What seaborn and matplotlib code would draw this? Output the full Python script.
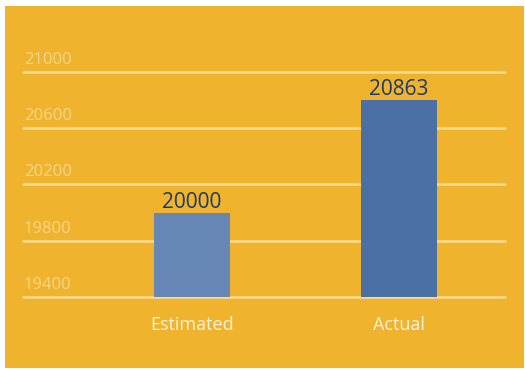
import matplotlib
matplotlib.use('Agg')
import matplotlib.pyplot as plt
import matplotlib.transforms as mtransforms
from matplotlib.patches import Rectangle
import seaborn as sns
import pandas as pd

categories = ['Estimated', 'Actual']
bar_values = [20000, 20800]
bar_labels = ['20000', '20863']
y_ticks = [19400, 19800, 20200, 20600, 21000]

bg = '#EFB32E'
bar_colors = ['#6788B6', '#4B70A6']
grid_color = '#F8DC93'
tick_color = '#F6D68A'
label_color = '#1A3A6C'

sns.set_theme(style='white')
plt.rcParams['font.family'] = ['Open Sans', 'DejaVu Sans']

df = pd.DataFrame({'Category': categories, 'Value': bar_values})

fig = plt.figure(figsize=(5.25, 3.7), dpi=100)
fig.patch.set_facecolor('white')
fig.patches.append(Rectangle((5 / 525, 1 - 368 / 370), 519 / 525, 362 / 370,
                             transform=fig.transFigure, facecolor=bg,
                             edgecolor='none', zorder=-10))

ax = fig.add_axes([23 / 525, 1 - 297 / 370, 482 / 525, 253.4 / 370])
ax.set_facecolor('none')

sns.barplot(data=df, x='Category', y='Value', hue='Category', palette=bar_colors,
            width=0.367, legend=False, ax=ax, zorder=3, saturation=1,
            edgecolor='none', linewidth=0)

ax.set_ylim(19400, 21200)
ax.set_xlim(-0.816, 1.512)

for t in y_ticks:
    ax.axhline(t, color=grid_color, lw=1.8, zorder=2, clip_on=False)

trans = mtransforms.blended_transform_factory(ax.transAxes, ax.transData)
for t in y_ticks:
    ax.annotate(str(t), xy=(0.002, t), xycoords=trans, xytext=(0, 3),
                textcoords='offset points', ha='left', va='bottom',
                fontsize=12, color=tick_color)

# value labels above each bar
for i, cat in enumerate(categories):
    ax.annotate(bar_labels[i], xy=(i, bar_values[i]), xytext=(0, 0),
                textcoords='offset points', ha='center', va='bottom',
                fontsize=15, color=label_color, zorder=4)

ax.set_yticks([])
ax.set_xlabel('')
ax.set_ylabel('')
ax.tick_params(axis='x', length=0, pad=14, labelsize=13, labelcolor='#FDF2D6')
for s in ax.spines.values():
    s.set_visible(False)

fig.savefig('out.png', dpi=100, facecolor=fig.get_facecolor())
